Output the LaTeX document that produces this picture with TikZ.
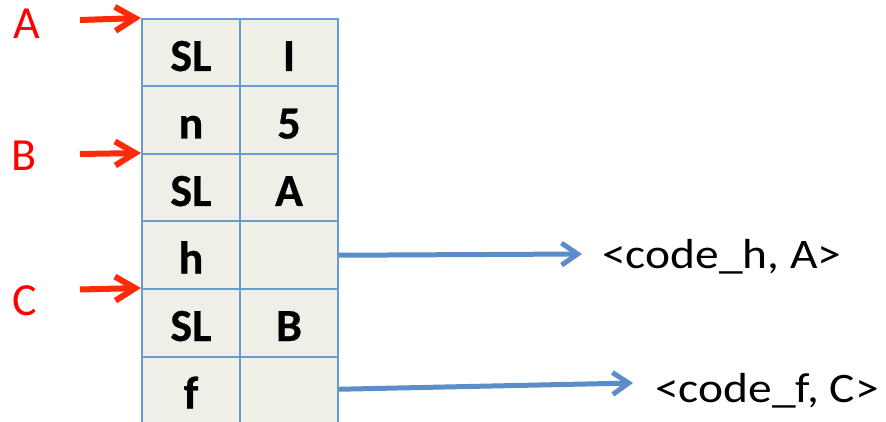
\documentclass[tikz,border=0pt]{standalone}
\usepackage{fontspec}
\setmainfont{Carlito}
\newfontfamily\codefont{Carlito}[FakeStretch=1.13]
\newfontfamily\cellfont{Carlito}[UprightFont=* Bold, FakeBold=0.6]
\usetikzlibrary{arrows.meta}
\definecolor{cellfill}{HTML}{EFEEE7}
\definecolor{cellline}{HTML}{6A9AD2}
\definecolor{bluearrow}{HTML}{5B8DC8}
\definecolor{redarrow}{HTML}{FF2A0A}
\definecolor{labred}{HTML}{FF0000}
\tikzset{
 cell/.style={draw=cellline, fill=cellfill, line width=2pt, minimum width=98pt, minimum height=67.5pt, inner sep=0pt, anchor=north west},
 celltext/.style={font=\cellfont\fontsize{46}{54}\selectfont, anchor=base, inner sep=0pt},
 lab/.style={font=\fontsize{46}{55}\selectfont, text=labred, anchor=base west, inner sep=0pt},
 redarr/.style={draw=redarrow, line width=6pt, -{Straight Barb[length=20pt,width=24pt]}},
 bluearr/.style={draw=bluearrow, line width=5pt, -{Straight Barb[length=16pt,width=22pt]}},
 codetext/.style={font=\codefont\fontsize{42}{50}\selectfont, anchor=base west, inner sep=0pt},
}
\begin{document}
\begin{tikzpicture}[x=1pt,y=-1pt]
\useasboundingbox (0,0) rectangle (886,422);
\clip (0,0) rectangle (886,422);
% table cells
\node[cell] (c11) at (141,18) {};
\node[cell] (c12) at (239,18) {};
\node[cell] (c21) at (141,85.5) {};
\node[cell] (c22) at (239,85.5) {};
\node[cell] (c31) at (141,153) {};
\node[cell] (c32) at (239,153) {};
\node[cell] (c41) at (141,220.5) {};
\node[cell] (c42) at (239,220.5) {};
\node[cell] (c51) at (141,288) {};
\node[cell] (c52) at (239,288) {};
\node[cell] (c61) at (141,355.5) {};
\node[cell] (c62) at (239,355.5) {};
% cell texts
\node[celltext] (t11) at ([yshift=-53pt]c11.north) {SL};
\node[celltext] (t12) at ([yshift=-53pt]c12.north) {I};
\node[celltext] (t21) at ([yshift=-53pt]c21.north) {n};
\node[celltext] (t22) at ([yshift=-53pt]c22.north) {5};
\node[celltext] (t31) at ([yshift=-53pt]c31.north) {SL};
\node[celltext] (t32) at ([yshift=-53pt]c32.north) {A};
\node[celltext] (t41) at ([yshift=-53pt]c41.north) {h};
\node[celltext] (t51) at ([yshift=-53pt]c51.north) {SL};
\node[celltext] (t52) at ([yshift=-53pt]c52.north) {B};
\node[celltext] (t61) at ([yshift=-53pt]c61.north) {f};
% labels
\node[lab] (lA) at (13,38.3) {A};
\node[lab] (lB) at (11.5,170.7) {B};
\node[lab] (lC) at (12,315.5) {C};
% red arrows
\coordinate (sA) at (80,20);
\coordinate (sB) at (80,154);
\coordinate (sC) at (80,289.5);
\draw[redarr] (sA) -- (c11.north west);
\draw[redarr] (sB) -- (c31.north west);
\draw[redarr] (sC) -- (c51.north west);
% code texts
\node[codetext] (k1) at (602,268) {<code\_h, A>};
\node[codetext] (k2) at (655,402) {<code\_f, C>};
% blue arrows
\coordinate (e1) at (582,254);
\coordinate (e2) at (633,383);
\draw[bluearr] (c42.east) -- (e1);
\draw[bluearr] ([yshift=1pt]c62.east) -- (e2);
\end{tikzpicture}
\end{document}
